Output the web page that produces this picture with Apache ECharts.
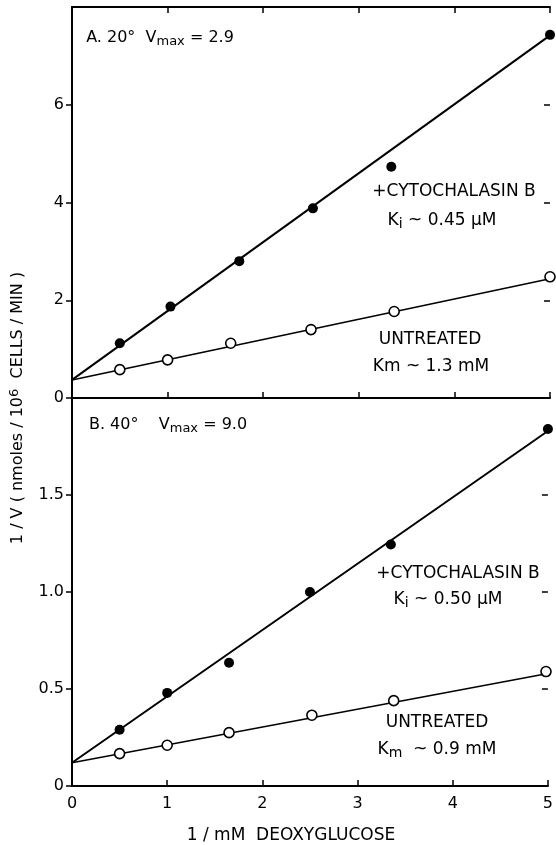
<!DOCTYPE html>
<html style="height: 100%">
<head>
<meta charset="utf-8">
<title>Deoxyglucose uptake, Lineweaver-Burk</title>
</head>
<body style="height: 100%; margin: 0; background: #fff">
<div id="container" style="width: 556px; height: 845px"></div>
<script src="https://cdn.jsdelivr.net/npm/echarts@6/dist/echarts.min.js"></script>
<script>
// panel A (20°)
var xCytoA = [0.5, 1.03, 1.75, 2.52, 3.34, 5];
var cytoA = [1.12, 1.87, 2.8, 3.88, 4.73, 7.43];
var xUntrA = [0.5, 1, 1.66, 2.5, 3.37, 5];
var untrA = [0.58, 0.78, 1.12, 1.4, 1.77, 2.48];
var fitX = [0, 5];
var fitCytoA = [0.37, 7.42];
var fitUntrA = [0.37, 2.44];

// panel B (40°)
var xCytoB = [0.5, 1, 1.65, 2.5, 3.35, 5];
var cytoB = [0.29, 0.48, 0.635, 1.0, 1.245, 1.84];
var xUntrB = [0.5, 1, 1.65, 2.52, 3.38, 4.98];
var untrB = [0.167, 0.21, 0.275, 0.365, 0.44, 0.59];
var fitCytoB = [0.12, 1.83];
var fitUntrB = [0.12, 0.58];

var yTicksA = ['0', '2', '4', '6'];
var yTicksB = ['0', '0.5', '1.0', '1.5'];

var FONT = 'DejaVu Sans';

function pairs(xs, ys) {
    return xs.map(function (x, i) { return [x, ys[i]]; });
}

var myChart = echarts.init(document.getElementById('container'));

var axLine = { show: true, onZero: false, lineStyle: { color: '#000', width: 2 } };
var noLine = { show: false, onZero: false };
var tickStyle = { color: '#000', width: 1.5 };
var tickIn = { show: true, inside: true, length: 6, lineStyle: tickStyle };

function xAx(grid, pos, labels) {
    return {
        type: 'value', gridIndex: grid, position: pos, min: 0, max: 5, interval: 1,
        axisLine: axLine, axisTick: tickIn, splitLine: { show: false },
        axisLabel: labels ? { margin: 10, color: '#000', fontFamily: FONT, fontSize: 16 } : { show: false }
    };
}
function yAx(grid, pos, max, interval, texts) {
    // ticks only at labelled values (the top of each panel has none)
    var vals = [];
    for (var i = 0; i * interval < max; i++) vals.push(i * interval);
    return {
        type: 'value', gridIndex: grid, position: pos, min: 0, max: max, interval: interval,
        axisLine: pos === 'left' ? axLine : noLine,
        axisTick: { show: true, inside: pos !== 'left', length: 6, lineStyle: tickStyle, customValues: vals },
        splitLine: { show: false },
        axisLabel: texts ? {
            margin: 8, color: '#000', fontFamily: FONT, fontSize: 16,
            formatter: function (v) { var i = Math.round(v / interval); return texts[i] || ''; }
        } : { show: false }
    };
}

function fitLine(x, y, w, xi, yi) {
    return {
        type: 'line', xAxisIndex: xi, yAxisIndex: yi, data: pairs(x, y), symbol: 'none',
        lineStyle: { color: '#000', width: w }, z: 2, silent: true
    };
}
function dots(x, y, filled, xi, yi) {
    return {
        type: 'scatter', xAxisIndex: xi, yAxisIndex: yi, data: pairs(x, y),
        symbol: 'circle', symbolSize: 10, z: 3,
        itemStyle: filled ? { color: '#000', opacity: 1 }
            : { color: '#fff', borderColor: '#000', borderWidth: 1.6, opacity: 1 }
    };
}

function txt(x, y, text, size, extra) {
    return Object.assign({
        type: 'text', x: x, y: y, z: 10,
        style: {
            text: text, fill: '#000', font: size + 'px "' + FONT + '"',
            fontSize: size, fontFamily: FONT,
            align: 'center', verticalAlign: 'middle',
            textAlign: 'center', textVerticalAlign: 'middle',
            rich: {
                sub: { fontSize: size - 3, fontFamily: FONT, verticalAlign: 'bottom', lineHeight: 10, fill: '#000' },
                sup: { fontSize: size - 3, fontFamily: FONT, verticalAlign: 'top', lineHeight: 10, fill: '#000' },
                n: { fontSize: size, fontFamily: FONT, lineHeight: size + 4, fill: '#000' }
            }
        }
    }, extra || {});
}

myChart.setOption({
    animation: false,
    grid: [
        { left: 72, right: 6, top: 7, height: 391 },
        { left: 72, right: 6, top: 398, height: 388 }
    ],
    xAxis: [
        xAx(0, 'bottom', false),
        xAx(0, 'top', false),
        xAx(1, 'bottom', true)
    ],
    yAxis: [
        yAx(0, 'left', 8, 2, yTicksA),
        yAx(0, 'right', 8, 2, null),
        yAx(1, 'left', 2, 0.5, yTicksB),
        yAx(1, 'right', 2, 0.5, null)
    ],
    series: [
        fitLine(fitX, fitCytoA, 2, 0, 0),
        fitLine(fitX, fitUntrA, 1.6, 0, 0),
        dots(xCytoA, cytoA, true, 0, 0),
        dots(xUntrA, untrA, false, 0, 0),
        fitLine(fitX, fitCytoB, 2, 2, 2),
        fitLine(fitX, fitUntrB, 1.6, 2, 2),
        dots(xCytoB, cytoB, true, 2, 2),
        dots(xUntrB, untrB, false, 2, 2)
    ],
    graphic: [
        txt(160, 38, '{n|A. 20°  V}{sub|max}{n| = 2.9}', 16),
        txt(454, 192, '+CYTOCHALASIN B', 17),
        txt(442, 221, '{n|K}{sub|i}{n| ~ 0.45 μM}', 17),
        txt(430, 340, 'UNTREATED', 17),
        txt(431, 367, '{n|Km ~ 1.3 mM}', 17),
        txt(168, 425, '{n|B. 40°    V}{sub|max}{n| = 9.0}', 16),
        txt(458, 574, '+CYTOCHALASIN B', 17),
        txt(448, 600, '{n|K}{sub|i}{n| ~ 0.50 μM}', 17),
        txt(437, 723, 'UNTREATED', 17),
        txt(437, 750, '{n|K}{sub|m}{n|  ~ 0.9 mM}', 17),
        txt(291, 836, '1 / mM  DEOXYGLUCOSE', 17),
        txt(18, 408, '{n|1 / V ( nmoles / 10}{sup|6}{n|  CELLS / MIN )}', 16, { rotation: Math.PI / 2 })
    ]
});
</script>
</body>
</html>
